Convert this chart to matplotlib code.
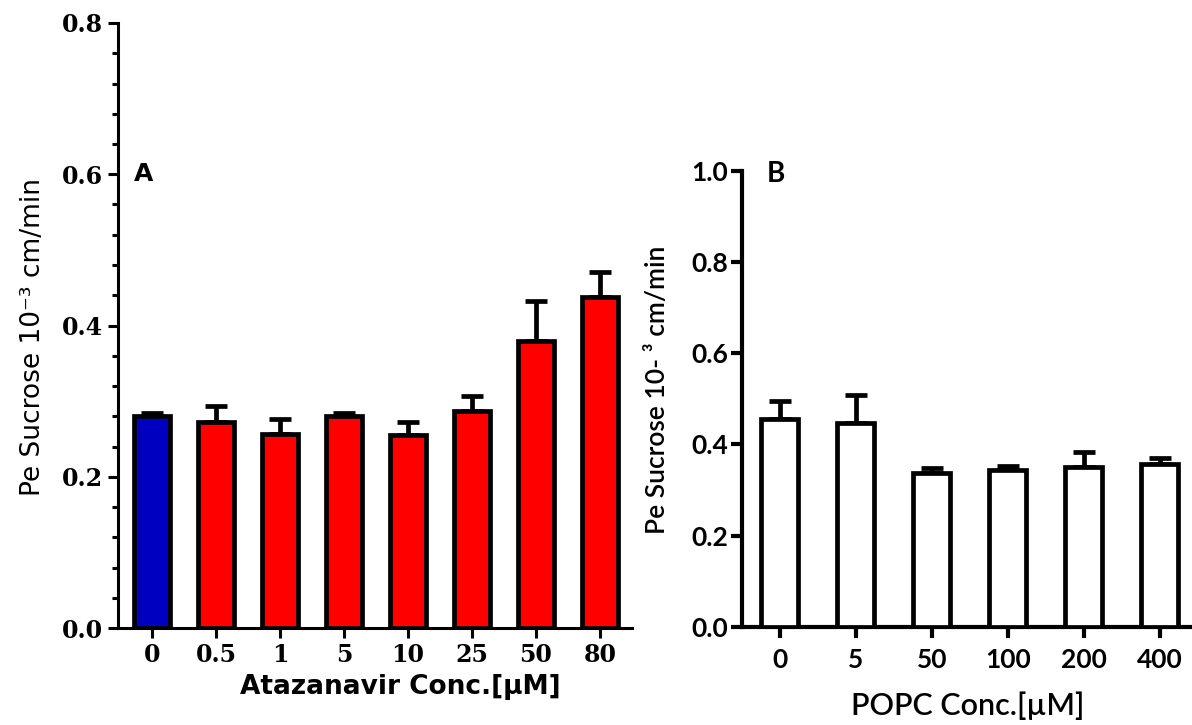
import matplotlib
matplotlib.use("Agg")
import matplotlib.pyplot as plt
import numpy as np

# panel A - atazanavir
ata_conc = ["0", "0.5", "1", "5", "10", "25", "50", "80"]
ata_pe = [0.280, 0.272, 0.256, 0.280, 0.255, 0.287, 0.380, 0.438]
ata_err = [0.004, 0.022, 0.020, 0.004, 0.018, 0.020, 0.053, 0.033]
ata_colors = ["#0000c0", "#ff0000", "#ff0000", "#ff0000", "#ff0000", "#ff0000", "#ff0000", "#ff0000"]

# panel B - POPC
popc_conc = ["0", "5", "50", "100", "200", "400"]
popc_pe = [0.456, 0.447, 0.337, 0.344, 0.350, 0.357]
popc_err = [0.039, 0.062, 0.011, 0.009, 0.033, 0.014]

fig = plt.figure(figsize=(11.92, 7.25), dpi=100)

# ---- A
axA = fig.add_axes([118/1192, 1-628/725, 514/1192, 605/725])
xa = np.arange(len(ata_conc))
axA.bar(xa, ata_pe, width=0.56, color=ata_colors, edgecolor="black", linewidth=3.4, zorder=3)
axA.errorbar(xa, ata_pe, yerr=[np.zeros(len(ata_err)), ata_err], fmt="none", ecolor="black",
             elinewidth=3.4, capsize=8, capthick=3.4, zorder=2)
axA.set_xlim(-0.53, 7.5)
axA.set_ylim(0, 0.8)
axA.set_yticks([0.0, 0.2, 0.4, 0.6, 0.8])
axA.set_yticklabels(["0.0", "0.2", "0.4", "0.6", "0.8"])
axA.set_yticks(np.arange(0, 0.8, 0.04), minor=True)
axA.set_xticks(xa)
axA.set_xticklabels(ata_conc)
for lab in axA.get_xticklabels() + axA.get_yticklabels():
    lab.set_fontfamily("DejaVu Serif")
    lab.set_fontweight("bold")
    lab.set_fontsize(17)
axA.tick_params(axis="both", which="major", length=7, width=2.2, direction="out")
axA.tick_params(axis="y", which="minor", length=4, width=2.2)
axA.tick_params(axis="x", pad=4)
axA.spines["top"].set_visible(False)
axA.spines["right"].set_visible(False)
axA.spines["left"].set_linewidth(2.2)
axA.spines["bottom"].set_linewidth(2.2)
axA.set_xlabel("Atazanavir Conc.[µM]", fontsize=19, fontweight="bold", family="DejaVu Sans")
axA.xaxis.set_label_coords((400-118)/514, -(687-628)/605)
axA.xaxis.label.set_va("center")
axA.set_ylabel("Pe Sucrose 10⁻³ cm/min", fontsize=19, family="DejaVu Sans")
axA.yaxis.set_label_coords(-(118-33)/514, (628-337)/605)
axA.yaxis.label.set_va("center")
axA.text(0.03, 0.75, "A", transform=axA.transAxes, fontsize=18, fontweight="bold",
         family="DejaVu Sans", va="center", ha="left")

# ---- B
axB = fig.add_axes([741.7/1192, 1-626.7/725, 456/1192, 456/725])
xb = np.arange(len(popc_conc))
axB.bar(xb, popc_pe, width=0.48, color="white", edgecolor="black", linewidth=3.4, zorder=3)
axB.errorbar(xb, popc_pe, yerr=[np.zeros(len(popc_err)), popc_err], fmt="none", ecolor="black",
             elinewidth=3.4, capsize=8, capthick=3.4, zorder=2)
axB.set_xlim(-0.5, 5.5)
axB.set_ylim(0, 1.0)
axB.set_yticks([0.0, 0.2, 0.4, 0.6, 0.8, 1.0])
axB.set_yticklabels(["0.0", "0.2", "0.4", "0.6", "0.8", "1.0"])
axB.set_xticks(xb)
axB.set_xticklabels(popc_conc)
for lab in axB.get_xticklabels() + axB.get_yticklabels():
    lab.set_fontfamily("Lato")
    lab.set_fontweight("bold")
    lab.set_fontsize(19)
axB.tick_params(axis="both", which="major", length=8, width=3, direction="out")
axB.tick_params(axis="x", pad=7)
axB.tick_params(axis="y", pad=2)
axB.spines["top"].set_visible(False)
axB.spines["right"].set_visible(False)
axB.spines["left"].set_linewidth(3)
axB.spines["bottom"].set_linewidth(3)
axB.set_xlabel("POPC Conc.[µM]", fontsize=22, family="Lato", fontweight="semibold")
axB.xaxis.set_label_coords((968-741.7)/456, -(706-626.7)/456)
axB.xaxis.label.set_va("center")
axB.set_ylabel("Pe Sucrose 10- ³ cm/min", fontsize=19, family=["Lato", "DejaVu Sans"],
               fontweight="semibold")
axB.yaxis.set_label_coords(-(741.7-657)/456, (626.7-390)/456)
axB.yaxis.label.set_va("center")
axB.text(0.055, 0.993, "B", transform=axB.transAxes, fontsize=20, fontweight="bold",
         family="Lato", va="center", ha="left")

fig.savefig("out.png", dpi=100)
